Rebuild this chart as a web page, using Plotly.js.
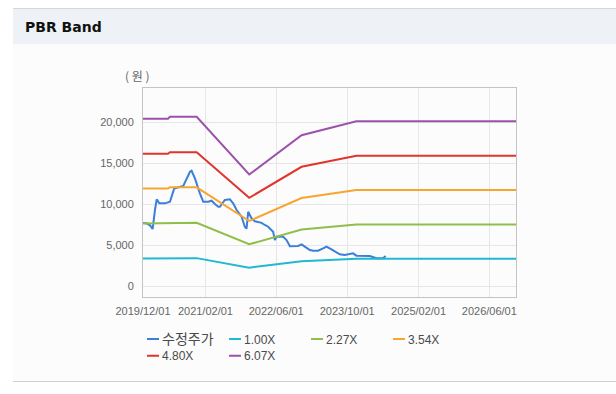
<!DOCTYPE html>
<html>
<head>
<meta charset="utf-8">
<script src="https://cdn.plot.ly/plotly-3.0.1.min.js"></script>
<style>
  html, body { margin: 0; padding: 0; background: #ffffff; }
  #wrap { position: relative; width: 616px; height: 394px; overflow: hidden; }
  #panel { position: absolute; left: 13px; top: 8px; width: 603px; height: 374px;
           background: #fcfcfc; border-top: 1px solid #d6d6d6; border-bottom: 1px solid #d0d0d0; box-sizing: border-box; }
  #header { position: absolute; left: 13px; top: 9px; width: 603px; height: 35px; background: #eef1f6; }
  #chart { position: absolute; left: 0; top: 0; width: 616px; height: 394px; }
</style>
</head>
<body>
<div id="wrap">
  <div id="panel"></div>
  <div id="header"></div>
  <div id="chart"></div>
</div>
<script>
// ---- Data ----
const priceDates = ['2019-12-01','2019-12-26','2020-01-18','2020-02-05','2020-02-21','2020-03-04','2020-03-22','2020-04-30',
  '2020-06-03','2020-06-25','2020-07-02','2020-09-02','2020-09-20','2020-10-18','2020-10-29','2020-11-21','2020-12-25',
  '2021-01-17','2021-02-20','2021-03-15','2021-04-07','2021-04-30','2021-05-11','2021-06-14','2021-07-19','2021-08-10',
  '2021-09-03','2021-10-07','2021-10-29','2021-11-10','2021-11-21','2021-12-03','2021-12-14','2022-01-06','2022-02-21',
  '2022-03-15','2022-04-07','2022-05-11','2022-05-23','2022-06-03','2022-07-19','2022-08-11','2022-09-03','2022-10-29',
  '2022-11-22','2022-12-14','2023-01-18','2023-02-09','2023-03-15','2023-04-19','2023-05-12','2023-06-15','2023-07-19',
  '2023-08-11','2023-09-14','2023-10-19','2023-11-10','2023-12-03','2024-01-07','2024-03-04','2024-04-18','2024-06-02','2024-06-21'];
const priceValues = [7700,7650,7400,6950,9270,10570,10080,10080,
  10280,11500,11900,12200,12900,13940,14060,13130,11300,
  10280,10280,10400,10000,9670,9670,10490,10570,10080,
  9270,8450,7230,7000,9060,8660,8260,7900,7700,
  7440,7230,6620,5600,6000,6000,5600,4850,4880,
  5080,4800,4390,4300,4300,4600,4800,4480,4070,
  3870,3780,3870,3980,3700,3700,3660,3380,3380,3660];

const bandDates = ['2019-12-01','2020-05-20','2020-06-03','2020-12-03','2021-11-28','2022-11-22','2023-12-03','2026-12-01'];
const band100 = [3360,3360,3400,3400,2240,3030,3310,3310];
const band227 = [7630,7630,7720,7720,5090,6880,7510,7510];
const band354 = [11890,11890,12040,12040,7930,10730,11720,11720];
const band480 = [16130,16130,16320,16320,10750,14540,15890,15890];
const band607 = [20400,20400,20640,20640,13600,18390,20090,20090];

const seriesNames = ['<span style="font-size:14px">수정주가</span>','1.00X','2.27X','3.54X','4.80X','6.07X'];
const seriesColors = ['#3b7fd9','#20b9cf','#8fbe4b','#f8a530','#e0352c','#9b52a9'];

const xTicks = ['2019-12-01','2021-02-01','2022-06-01','2023-10-01','2025-02-01','2026-06-01'];
const yTicks = [0,5000,10000,15000,20000];

// ---- Traces ----
const bandValues = [band100, band227, band354, band480, band607];
const traces = [{
  x: priceDates, y: priceValues, type: 'scatter', mode: 'lines', name: seriesNames[0],
  line: {color: seriesColors[0], width: 2}, legend: 'legend'
}];
bandValues.forEach((vals, i) => {
  traces.push({
    x: bandDates, y: vals, type: 'scatter', mode: 'lines', name: seriesNames[i + 1],
    line: {color: seriesColors[i + 1], width: 2},
    legend: (i + 1) < 4 ? 'legend' : 'legend2'
  });
});

const legendFont = {family: 'Liberation Sans, Noto Sans CJK KR, sans-serif', size: 12, color: '#4a4a4a'};
const legendX = (122 - 143) / 373;

const layout = {
  width: 616, height: 394,
  margin: {l: 143, r: 100, t: 88, b: 97},
  paper_bgcolor: 'rgba(0,0,0,0)',
  plot_bgcolor: 'rgba(0,0,0,0)',
  font: {family: 'Liberation Sans, Arial, sans-serif', size: 11, color: '#666'},
  showlegend: true,
  legend: {
    orientation: 'h', x: legendX, xanchor: 'left', y: -0.131, yanchor: 'top',
    entrywidth: 37, entrywidthmode: 'pixels', traceorder: 'normal',
    font: legendFont, bgcolor: 'rgba(0,0,0,0)', itemwidth: 30, tracegroupgap: 0
  },
  legend2: {
    orientation: 'h', x: legendX, xanchor: 'left', y: -0.212, yanchor: 'top',
    entrywidth: 37, entrywidthmode: 'pixels', traceorder: 'normal',
    font: legendFont, bgcolor: 'rgba(0,0,0,0)', itemwidth: 30, tracegroupgap: 0
  },
  xaxis: {
    type: 'date', range: ['2019-12-01', '2026-12-01'],
    tickvals: xTicks, tickformat: '%Y/%m/%d',
    showgrid: true, gridcolor: '#e6e6e6', gridwidth: 1,
    showline: true, linecolor: '#c4c4c4', linewidth: 1, mirror: true,
    ticks: '', ticklabelstandoff: 4,
    tickfont: {family: 'Liberation Sans, Arial, sans-serif', size: 11, color: '#666'},
    zeroline: false, fixedrange: true
  },
  yaxis: {
    range: [-1340, 24150],
    tickvals: yTicks, tickformat: ',d',
    showgrid: true, gridcolor: '#e6e6e6', gridwidth: 1,
    showline: true, linecolor: '#c4c4c4', linewidth: 1, mirror: true,
    ticks: '', ticklabelstandoff: 6,
    tickfont: {family: 'Liberation Sans, Arial, sans-serif', size: 11, color: '#666'},
    zeroline: false, fixedrange: true
  },
  annotations: [
    {text: '<b>PBR Band</b>', xref: 'paper', yref: 'paper', x: (23 - 143) / 373, y: (297 - 27) / 209,
     xanchor: 'left', yanchor: 'middle', showarrow: false,
     font: {family: 'DejaVu Sans, sans-serif', size: 14, color: '#111'}},
    {text: '( 원 )', xref: 'paper', yref: 'paper', x: (137 - 143) / 373, y: (297 - 75) / 209,
     xanchor: 'center', yanchor: 'middle', showarrow: false,
     font: {family: 'Noto Sans CJK KR, sans-serif', size: 12, color: '#666'}}
  ]
};

Plotly.newPlot('chart', traces, layout, {displayModeBar: false, staticPlot: true}).then(function (gd) {
  // shorten the legend line glyphs to match the reference's short dashes
  gd.querySelectorAll('.legendlines path').forEach(function (p) {
    p.setAttribute('d', 'M25,0h12');
  });
});
</script>
</body>
</html>
